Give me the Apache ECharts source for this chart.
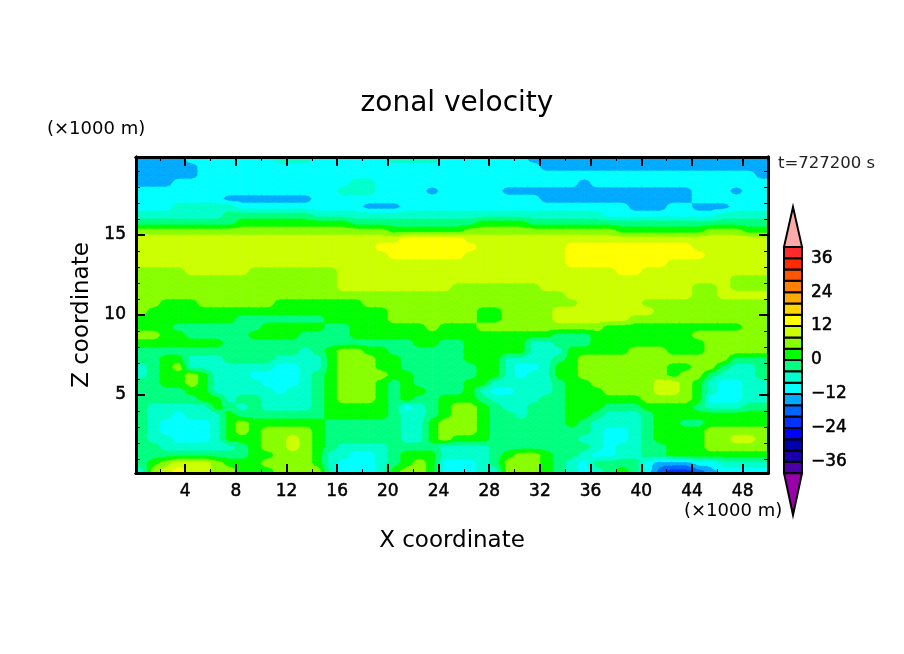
<!DOCTYPE html>
<html>
<head>
<meta charset="utf-8">
<title>zonal velocity</title>
<script src="https://cdn.jsdelivr.net/npm/echarts@6/dist/echarts.min.js"></script>
<style>
  html, body { margin: 0; padding: 0; background: #fff; }
  #main { width: 904px; height: 654px; }
</style>
</head>
<body>
<div id="main"></div>
<script>
// grid points of the velocity field, x and z in 1000 m
var xCenters = [0.5,1.5,2.5,3.5,4.5,5.5,6.5,7.5,8.5,9.5,10.5,11.5,12.5,13.5,14.5,15.5,16.5,17.5,18.5,19.5,20.5,21.5,22.5,23.5,24.5,25.5,26.5,27.5,28.5,29.5,30.5,31.5,32.5,33.5,34.5,35.5,36.5,37.5,38.5,39.5,40.5,41.5,42.5,43.5,44.5,45.5,46.5,47.5,48.5,49.5];
var zCenters = [19.75,19.25,18.75,18.25,17.75,17.25,16.75,16.25,15.75,15.25,14.75,14.25,13.75,13.25,12.75,12.25,11.75,11.25,10.75,10.25,9.75,9.25,8.75,8.25,7.75,7.25,6.75,6.25,5.75,5.25,4.75,4.25,3.75,3.25,2.75,2.25,1.75,1.25,0.75,0.25];

// zonal velocity, one row per z, top row first
var uRows = [
[-14,-14,-14,-14,-10,-10,-10,-10,-10,-10, -10,-6,-6,-6,-10,-10,-10,-10,-10,-10, -6,-6,-6,-6,-10,-10,-10,-10,-10,-10, -10,-14,-14,-14,-14,-14,-14,-14,-14,-14, -14,-14,-14,-14,-14,-14,-14,-14,-14,-14],
[-14,-14,-14,-14,-14,-10,-10,-10,-10,-10, -10,-10,-10,-10,-10,-10,-10,-10,-10,-10, -10,-10,-10,-10,-10,-10,-10,-10,-10,-10, -10,-10,-14,-14,-14,-14,-14,-14,-14,-14, -14,-14,-14,-14,-14,-14,-14,-14,-14,-14],
[-14,-14,-14,-14,-14,-10,-10,-10,-10,-10, -10,-10,-10,-10,-10,-10,-10,-10,-10,-10, -10,-10,-10,-10,-10,-10,-10,-10,-10,-10, -10,-10,-10,-10,-10,-10,-10,-10,-10,-10, -10,-10,-10,-10,-10,-10,-10,-10,-10,-14],
[-14,-14,-14,-10,-10,-10,-10,-10,-10,-10, -10,-10,-10,-10,-10,-10,-10,-6,-6,-10, -10,-10,-10,-10,-10,-10,-10,-10,-10,-10, -10,-10,-10,-10,-10,-14,-10,-10,-10,-10, -10,-10,-10,-10,-10,-10,-10,-10,-10,-10],
[-10,-10,-10,-10,-10,-10,-10,-10,-10,-10, -10,-10,-10,-10,-10,-10,-6,-6,-6,-10, -10,-10,-10,-14,-10,-10,-10,-10,-10,-14, -14,-14,-14,-14,-14,-14,-14,-14,-14,-14, -14,-14,-14,-14,-10,-10,-10,-14,-10,-10],
[-10,-10,-10,-10,-10,-10,-10,-14,-14,-14, -14,-14,-14,-14,-10,-10,-10,-10,-10,-10, -10,-10,-10,-10,-10,-10,-10,-10,-10,-10, -10,-10,-14,-14,-14,-14,-14,-14,-14,-14, -14,-14,-14,-14,-10,-10,-10,-10,-10,-10],
[-10,-10,-10,-6,-6,-6,-6,-6,-10,-10, -10,-10,-10,-10,-10,-10,-10,-10,-14,-14, -14,-10,-10,-10,-10,-10,-10,-10,-10,-10, -10,-10,-10,-10,-10,-10,-10,-10,-10,-14, -14,-14,-10,-10,-14,-14,-14,-10,-10,-10],
[-6,-6,-6,-6,-6,-6,-6,-2,-2,-2, -2,-2,-2,-2,-6,-6,-6,-6,-6,-6, -6,-6,-6,-6,-6,-6,-6,-6,-6,-6, -6,-6,-6,-6,-6,-6,-6,-10,-10,-10, -10,-10,-10,-10,-10,-10,-6,-6,-6,-6],
[-2,-2,-2,-2,-2,-2,-2,-2,2,2, 2,2,2,2,2,2,2,-2,-2,-2, -2,-2,-2,-2,-2,-2,-2,2,2,2, 2,-2,-2,-2,-2,-2,-2,-2,-2,-2, -2,-2,-2,-2,-2,-2,-2,-2,-2,-2],
[6,6,6,6,6,6,6,6,6,6, 6,6,6,6,6,6,6,6,6,6, 2,2,2,2,2,2,6,6,6,6, 6,6,6,6,6,6,6,6,2,2, 2,2,2,2,2,6,6,6,2,2],
[10,10,10,10,10,10,10,10,10,10, 10,10,10,10,10,10,10,10,10,10, 10,14,14,14,14,14,10,10,10,10, 10,10,10,10,10,10,10,10,10,10, 10,10,10,10,10,10,10,10,10,10],
[10,10,10,10,10,10,10,10,10,10, 10,10,10,10,10,10,10,10,10,14, 14,14,14,14,14,14,14,10,10,10, 10,10,10,10,14,14,14,14,14,14, 14,14,14,14,10,10,10,10,10,10],
[10,10,10,10,10,10,10,10,10,10, 10,10,10,10,10,10,10,10,10,10, 14,14,14,14,14,14,10,10,10,10, 10,10,10,10,14,14,14,14,14,14, 14,14,14,14,14,10,10,10,10,10],
[10,10,10,10,10,10,10,10,10,10, 10,10,10,10,10,10,10,10,10,10, 10,10,10,10,10,10,10,10,10,10, 10,10,10,10,14,14,14,14,14,14, 14,14,10,10,10,10,10,10,10,10],
[6,6,6,6,10,10,10,10,10,6, 6,6,6,6,6,6,10,10,10,10, 10,10,10,10,10,10,10,10,10,10, 10,10,10,10,10,10,10,10,14,14, 10,10,10,10,10,10,10,10,10,10],
[6,6,6,6,6,6,6,6,6,6, 6,6,6,6,6,6,10,10,10,10, 10,10,10,10,10,10,10,10,10,10, 10,10,10,10,10,10,10,10,10,10, 10,10,10,10,10,10,10,6,6,6],
[6,6,6,6,6,6,6,6,6,6, 6,6,6,6,6,6,10,10,10,10, 10,10,10,10,10,6,6,6,6,6, 6,6,10,10,10,10,10,10,10,10, 10,10,10,10,6,6,10,6,6,6],
[6,6,6,6,6,6,6,6,6,6, 6,6,6,6,6,6,6,6,6,6, 6,6,6,6,6,6,6,6,6,6, 6,6,6,6,10,10,10,10,10,10, 10,10,10,10,6,6,10,10,10,10],
[6,6,2,2,2,6,6,6,6,6, 6,2,2,2,2,2,2,2,6,6, 6,6,6,6,6,6,6,6,6,6, 6,6,6,6,6,10,10,10,10,10, 6,6,6,6,6,6,6,6,6,6],
[6,2,2,2,2,2,2,2,2,2, 2,2,2,2,2,2,2,2,2,2, 6,6,6,6,6,6,6,2,2,6, 6,6,6,10,10,10,10,10,10,10, 10,6,6,6,6,6,6,6,6,6],
[2,2,2,2,2,2,2,2,-2,-2, -2,-2,-2,-2,-2,2,2,2,2,2, 6,6,6,6,6,6,6,2,2,6, 6,6,6,10,10,10,10,10,10,6, 6,6,6,6,6,6,6,6,6,6],
[2,2,2,-2,-2,-2,-2,-2,-2,-2, 2,2,2,2,2,-2,-2,2,2,2, 2,2,2,6,2,2,2,6,6,6, 6,6,6,6,6,6,6,2,2,2, 2,2,2,2,2,2,2,2,6,6],
[6,6,2,2,-2,-2,-2,-2,-2,2, 2,2,2,-2,-2,-2,-2,2,2,2, 2,2,2,2,2,2,2,2,2,2, 2,2,2,-2,-2,-2,2,2,2,2, 2,2,2,2,6,6,6,6,6,6],
[2,2,2,2,2,2,2,-2,-2,-2, -2,-2,-2,-2,-2,-2,-2,-2,-2,-2, -2,-2,2,2,-2,-2,2,2,2,2, 2,-6,-6,-2,-2,-2,2,2,2,2, 2,2,2,2,2,6,6,6,6,6],
[-2,-2,-2,-2,-2,-2,-2,-2,-2,-2, -2,-2,-2,-6,-2,2,6,6,2,2, -2,-2,-2,-2,-2,-2,2,2,2,2, 2,-6,-6,-6,2,2,2,2,2,6, 6,6,2,2,2,6,6,6,6,6],
[-2,-2,2,2,-6,-6,-6,-2,-2,-2, -2,-6,-6,-6,-6,2,6,6,6,2, 2,-2,-2,-2,-2,-2,2,2,2,-6, -6,-6,-6,-2,2,6,6,6,6,6, 6,6,6,6,6,6,6,-2,-2,-2],
[-6,-2,2,6,-6,-6,-6,-6,-6,-6, -6,-10,-10,-6,-6,2,6,6,6,2, 2,-2,-2,-2,-2,-2,-2,2,2,-6, -10,-10,-6,2,2,6,6,6,6,6, 6,6,2,2,6,6,-2,-6,-6,-2],
[-6,-2,2,2,6,2,-6,-6,-6,-10, -10,-10,-10,-6,-2,2,6,6,6,6, 2,2,-2,-2,-2,-2,-2,2,2,-6, -10,-6,-6,2,2,6,6,6,6,6, 6,6,2,6,6,-2,-6,-6,-6,-2],
[-2,-2,2,2,6,2,-6,-6,-6,-6, -10,-10,-10,-6,-2,2,6,6,6,2, -2,2,-2,-2,-2,-2,2,2,-6,-6, -6,-6,-6,-2,2,2,6,6,6,6, 6,10,10,6,2,-6,-10,-10,-6,-6],
[-2,-2,-2,-2,2,2,-6,-6,-6,-6, -6,-10,-6,-6,-2,2,6,6,6,2, -2,2,2,-2,-2,-2,2,-6,-10,-10, -6,-6,-6,-2,2,2,2,6,6,6, 6,10,10,6,2,-6,-10,-10,-6,-6],
[-2,-2,-2,-2,-2,2,2,-6,-2,-2, -6,-6,-6,-6,-2,2,6,6,6,2, -2,2,-2,-2,2,2,2,-2,-6,-6, -6,-6,-2,-2,2,2,2,2,2,2, 6,6,6,6,2,-10,-10,-10,-6,-6],
[-2,-6,-6,-6,-6,-6,2,-2,-6,-2, -6,-6,-6,-6,-2,2,2,2,2,2, -2,-10,-6,-2,2,6,6,2,-2,-6, -6,-2,-2,-2,2,2,2,-2,-2,-2, 2,2,2,2,-2,-6,-6,-6,-2,-2],
[-2,-6,-6,-10,-6,-6,-6,2,-2,-2, -2,-2,-2,-2,-2,2,2,2,2,2, -2,-6,-6,-2,2,6,6,2,-2,-2, -6,-2,-2,-2,2,2,-2,-6,-6,-6, -2,2,2,2,2,2,2,2,2,2],
[-2,-6,-10,-10,-10,-10,-6,2,6,2, 2,2,2,2,2,-2,-2,-2,-2,-2, -2,-6,-6,2,6,6,6,2,-2,-2, -2,-2,-2,-2,2,-2,-6,-6,-6,-6, -2,2,2,-2,-2,2,2,2,2,2],
[-2,-6,-10,-10,-10,-10,-6,2,6,2, 6,6,6,6,2,-2,-2,-2,-2,-2, -2,-6,-6,2,6,6,6,2,-2,-2, -2,-2,-2,-2,-2,-2,-6,-10,-10,-6, -2,2,2,2,2,6,6,6,6,6],
[-2,-6,-6,-10,-10,-10,-6,2,2,2, 6,6,10,6,2,-2,-2,-2,-2,-2, -2,-6,-6,2,6,2,2,2,-2,-2, -2,-2,-2,-2,-2,-6,-6,-10,-10,-6, -2,2,2,2,2,6,6,10,10,6],
[-2,-2,-6,-6,-6,-6,-6,-6,-2,2, 6,6,10,6,2,-2,-6,-6,-6,-6, -2,-2,-2,-2,-6,-6,-6,-6,-2,-2, -2,-2,-2,-2,-2,-2,-6,-10,-6,-6, -2,-2,2,2,2,6,6,6,6,6],
[-2,-2,-2,-2,-2,-2,-2,-2,-2,2, 2,6,6,6,2,-6,-6,-10,-10,-6, -2,2,2,2,-6,-6,-6,-6,-2,2, 6,6,2,-2,-2,-6,-10,-10,-6,-6, -2,-2,2,2,2,2,2,2,2,2],
[-2,2,6,10,10,10,6,2,2,2, 6,6,6,6,2,-6,-10,-10,-10,-6, -2,2,6,2,-10,-10,-10,-6,-2,6, 6,6,2,-2,-6,-10,-2,-2,-2,-2, -10,-14,-14,-14,-10,-10,-6,-6,-6,-6],
[-6,6,10,14,10,10,6,6,2,2, 2,6,6,6,6,-6,-10,-10,-10,-6, 2,6,6,2,-10,-10,-10,-6,-6,6, 6,6,2,-2,-6,-10,-6,-2,2,-2, -10,-18,-22,-22,-18,-14,-10,-10,-10,-10]
];

// contour bands, every 4 m/s from -40 to 40, lowest band first
var bandLows = [-40,-36,-32,-28,-24,-20,-16,-12,-8,-4,0,4,8,12,16,20,24,28,32,36];
var bandColors = ['#4c00aa','#1a00aa','#0000aa','#0000ff','#0033ff','#0066ff','#00aaff','#00ffff','#00ffcc','#00ff80','#00ff00','#88ff00','#ccff00','#ffff00','#ffd400','#ffaa00','#ff8000','#ff5500','#ff2a00','#ff2a2a'];

// the two arrow ends of the colour bar: tip, base, colour
var arrowTips = [54.1, -54.8];
var arrowBases = [40, -40];
var arrowColors = ['#ffaaaa', '#9900aa'];

var xMajor = [4,8,12,16,20,24,28,32,36,40,44,48];
var xMinor = [2,6,10,14,18,22,26,30,34,38,42,46,50];
var zMajor = [5,10,15];
var zMinor = [1,2,3,4,6,7,8,9,11,12,13,14,16,17,18,19];
var barLabels = [-36,-24,-12,0,12,24,36];

var fontName = '"DejaVu Sans"';

// one frame axis, only carries ticks and line
function frameAxis(position, min, max, ticks, len, width, labels) {
  return {
    type: 'value', gridIndex: 0, position: position, min: min, max: max, z: 5,
    splitLine: { show: false },
    axisLine: { show: true, onZero: false, lineStyle: { color: '#000', width: 3 } },
    axisTick: { show: true, inside: true, length: len, customValues: ticks, lineStyle: { color: '#000', width: width } },
    axisLabel: labels
      ? { show: true, customValues: ticks, margin: 10, color: '#000', fontFamily: fontName, fontSize: 17, textBorderColor: '#000', textBorderWidth: 0.5, formatter: '{value}' }
      : { show: false }
  };
}

function clampIndex(i, n) {
  return Math.max(0, Math.min(n - 1, i));
}

function nodeX(i) {
  if (i < 0) return xCenters[0] - 0.5;
  if (i >= xCenters.length) return xCenters[xCenters.length - 1] + 0.5;
  return xCenters[i];
}

function nodeZ(i) {
  if (i < 0) return zCenters[0] + 0.25;
  if (i >= zCenters.length) return zCenters[zCenters.length - 1] - 0.25;
  return zCenters[i];
}

// cut a polygon [[x, z, u], ...] down to the part where sign*(u-level) >= 0
function clipAtLevel(poly, level, sign) {
  var out = [];
  for (var i = 0; i < poly.length; i++) {
    var p = poly[i], q = poly[(i + 1) % poly.length];
    var dp = sign * (p[2] - level), dq = sign * (q[2] - level);
    if (dp >= 0) out.push(p);
    if ((dp > 0 && dq < 0) || (dp < 0 && dq > 0)) {
      var t = dp / (dp - dq);
      out.push([p[0] + t * (q[0] - p[0]), p[1] + t * (q[1] - p[1]), level]);
    }
  }
  return out;
}

// filled contour pieces for one triangle of the grid
function fillTriangle(tri, api, children) {
  var lo = Math.min(tri[0][2], tri[1][2], tri[2][2]);
  var hi = Math.max(tri[0][2], tri[1][2], tri[2][2]);
  for (var b = 0; b < bandLows.length; b++) {
    var low = bandLows[b];
    if (low + 4 <= lo || low >= hi) continue;
    var poly = clipAtLevel(clipAtLevel(tri, low, 1), low + 4, -1);
    if (poly.length < 3) continue;
    children.push({
      type: 'polygon',
      shape: { points: poly.map(function (p) { return api.coord([p[0], p[1]]); }) },
      style: { fill: bandColors[b], stroke: bandColors[b], lineWidth: 0.7 }
    });
  }
}

function fillQuad(ci, ri, api, children) {
  var nx = xCenters.length, nz = zCenters.length;
  var c0 = clampIndex(ci, nx), c1 = clampIndex(ci + 1, nx);
  var r0 = clampIndex(ri, nz), r1 = clampIndex(ri + 1, nz);
  var x0 = nodeX(ci), x1 = nodeX(ci + 1), z0 = nodeZ(ri), z1 = nodeZ(ri + 1);
  var a = [x0, z0, uRows[r0][c0]], b = [x1, z0, uRows[r0][c1]];
  var c = [x1, z1, uRows[r1][c1]], d = [x0, z1, uRows[r1][c0]];
  var m = [(x0 + x1) / 2, (z0 + z1) / 2, (a[2] + b[2] + c[2] + d[2]) / 4];
  fillTriangle([a, b, m], api, children);
  fillTriangle([b, c, m], api, children);
  fillTriangle([c, d, m], api, children);
  fillTriangle([d, a, m], api, children);
}

var cellData = [];
for (var r = 0; r < zCenters.length; r++) {
  for (var c = 0; c < xCenters.length; c++) {
    cellData.push([xCenters[c], zCenters[r], uRows[r][c], c, r]);
  }
}

var bottomAxis = frameAxis('bottom', 0.125, 50, xMajor, 9, 2, true);
bottomAxis.name = 'X coordinate';
bottomAxis.nameLocation = 'middle';
bottomAxis.nameGap = 57;
bottomAxis.nameTextStyle = { color: '#000', fontFamily: fontName, fontSize: 23 };

var leftAxis = frameAxis('left', 0.125, 19.875, zMajor, 9, 2, true);
leftAxis.name = 'Z coordinate';
leftAxis.nameLocation = 'middle';
leftAxis.nameGap = 40;
leftAxis.nameTextStyle = { color: '#000', fontFamily: fontName, fontSize: 23 };

var chart = echarts.init(document.getElementById('main'));

var option = {
  backgroundColor: '#fff',
  animation: false,
  title: {
    text: 'zonal velocity', left: 452, top: 85, textAlign: 'center',
    textStyle: { color: '#000', fontFamily: fontName, fontSize: 28, fontWeight: 'normal' }
  },
  grid: [
    { left: 136, top: 157, width: 632, height: 316 },
    { left: 784, top: 207, width: 18, height: 308 }
  ],
  xAxis: [
    bottomAxis,
    frameAxis('bottom', 0.125, 50, xMinor, 4, 1, false),
    frameAxis('top', 0.125, 50, xMajor, 9, 2, false),
    frameAxis('top', 0.125, 50, xMinor, 4, 1, false),
    { type: 'value', gridIndex: 1, min: 0, max: 1, show: false }
  ],
  yAxis: [
    leftAxis,
    frameAxis('left', 0.125, 19.875, zMinor, 4, 1, false),
    frameAxis('right', 0.125, 19.875, zMajor, 9, 2, false),
    frameAxis('right', 0.125, 19.875, zMinor, 4, 1, false),
    {
      type: 'value', gridIndex: 1, position: 'right', min: -54.8, max: 54.1,
      splitLine: { show: false },
      axisLine: { show: false },
      axisTick: { show: false },
      axisLabel: {
        show: true, customValues: barLabels, margin: 9, color: '#000', fontFamily: fontName, fontSize: 17,
        textBorderColor: '#000', textBorderWidth: 0.5,
        formatter: function (v) { return String(v).replace('-', '\u2212'); }
      }
    }
  ],
  series: [
    {
      type: 'custom', xAxisIndex: 0, yAxisIndex: 0, clip: true, silent: true,
      encode: { x: 0, y: 1 },
      data: cellData,
      renderItem: function (params, api) {
        var c = api.value(3), r = api.value(4);
        var children = [];
        var cols = c === 0 ? [-1, 0] : [c];
        var rows = r === 0 ? [-1, 0] : [r];
        cols.forEach(function (ci) {
          rows.forEach(function (ri) { fillQuad(ci, ri, api, children); });
        });
        return { type: 'group', children: children };
      }
    },
    {
      type: 'custom', xAxisIndex: 4, yAxisIndex: 4, silent: true, z: 3,
      encode: { y: 0 },
      data: bandLows.map(function (low) { return [low]; }),
      renderItem: function (params, api) {
        var a = api.coord([0, api.value(0) + 4]);
        var b = api.coord([1, api.value(0)]);
        return {
          type: 'rect',
          shape: { x: a[0], y: a[1], width: b[0] - a[0], height: b[1] - a[1] },
          style: { fill: bandColors[params.dataIndex], stroke: '#000', lineWidth: 2 }
        };
      }
    },
    {
      type: 'custom', xAxisIndex: 4, yAxisIndex: 4, silent: true, z: 3,
      encode: { y: 0 },
      data: arrowTips.map(function (tip, i) { return [tip, arrowBases[i]]; }),
      renderItem: function (params, api) {
        var tip = api.coord([0.5, api.value(0)]);
        var left = api.coord([0, api.value(1)]);
        var right = api.coord([1, api.value(1)]);
        return {
          type: 'polygon',
          shape: { points: [left, tip, right] },
          style: { fill: arrowColors[params.dataIndex], stroke: '#000', lineWidth: 2 }
        };
      }
    }
  ],
  graphic: [
    { type: 'text', left: 47, top: 120, style: { text: '(\u00d71000 m)', fill: '#000', font: '18px ' + fontName } },
    { type: 'text', left: 684, top: 502, style: { text: '(\u00d71000 m)', fill: '#000', font: '18px ' + fontName } },
    { type: 'text', left: 778, top: 155, style: { text: 't=727200 s', fill: '#222', font: '16.5px ' + fontName } }
  ]
};

chart.setOption(option);
</script>
</body>
</html>
